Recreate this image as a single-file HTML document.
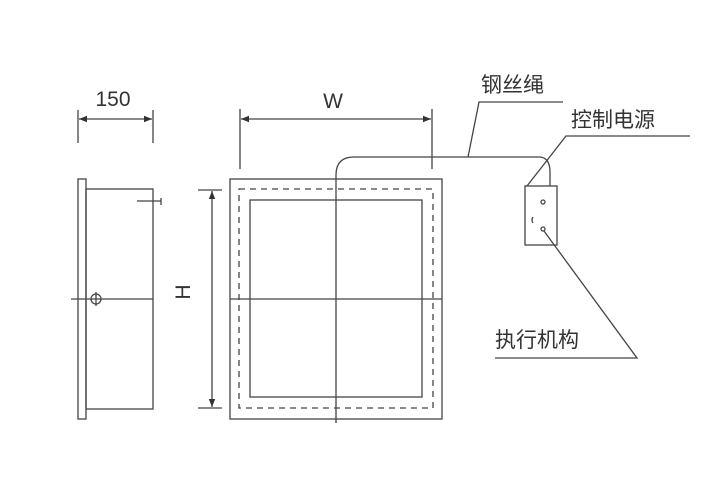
<!DOCTYPE html>
<html><head><meta charset="utf-8"><style>
html,body{margin:0;padding:0;background:#fff;width:712px;height:480px;overflow:hidden}
svg{display:block}
text{font-family:"Liberation Sans","Noto Sans CJK SC",sans-serif;fill:#333}
</style></head><body>
<svg width="712" height="480" viewBox="0 0 712 480" xmlns="http://www.w3.org/2000/svg">
<defs>
<marker id="a" viewBox="0 0 10 10" refX="10" refY="5" markerWidth="8" markerHeight="8" orient="auto-start-reverse" markerUnits="userSpaceOnUse"><path d="M0,1 L10,5 L0,9 z" fill="#333"/></marker>
</defs>
<g stroke="#444" stroke-width="1.3" fill="none">
<!-- side view -->
<rect x="78" y="179" width="8" height="240"/>
<rect x="86" y="189" width="67" height="220"/>
<line x1="71" y1="299" x2="153" y2="299"/>
<circle cx="96" cy="299" r="5"/>
<line x1="96" y1="292" x2="96" y2="306"/>
<line x1="137" y1="201" x2="161" y2="201"/>
<line x1="161" y1="198" x2="161" y2="205"/>
<!-- 150 dim -->
<line x1="78" y1="110" x2="78" y2="143"/>
<line x1="153" y1="110" x2="153" y2="143"/>
<line x1="79" y1="119" x2="152" y2="119" marker-start="url(#a)" marker-end="url(#a)"/>
<!-- H dim -->
<line x1="198" y1="190" x2="222" y2="190"/>
<line x1="198" y1="408" x2="222" y2="408"/>
<line x1="212" y1="191" x2="212" y2="407" marker-start="url(#a)" marker-end="url(#a)"/>
<!-- front -->
<rect x="230" y="179" width="212" height="240"/>
<rect x="239" y="189" width="194" height="219" stroke-dasharray="6,5"/>
<rect x="250" y="200" width="172" height="197"/>
<line x1="230" y1="299" x2="442" y2="299"/>
<path d="M336,423 L336,175 Q336,157 354,157 L540,157 Q550,158 550,172 L550,186"/>
<!-- W dim -->
<line x1="240" y1="109" x2="240" y2="169"/>
<line x1="432" y1="109" x2="432" y2="169"/>
<line x1="241" y1="119" x2="431" y2="119" marker-start="url(#a)" marker-end="url(#a)"/>
<!-- box -->
<rect x="525" y="186" width="32" height="59"/>
<circle cx="543" cy="202" r="2"/>
<circle cx="543" cy="229" r="2"/>
<path d="M533,217 q-2,3 0,6"/>
<!-- leaders -->
<polyline points="468,157 479,102 563,102"/>
<polyline points="527,186 566,136 690,136"/>
<polyline points="544,231 637,358 495,358"/>
</g>
<text x="113" y="106" font-size="21" text-anchor="middle">150</text>
<text x="333" y="108" font-size="21" text-anchor="middle">W</text>
<text x="0" y="0" font-size="21" text-anchor="middle" transform="translate(190,292) rotate(-90)">H</text>
<text x="481" y="92" font-size="21">钢丝绳</text>
<text x="571" y="127" font-size="21">控制电源</text>
<text x="495" y="347" font-size="21">执行机构</text>
</svg>
</body></html>
